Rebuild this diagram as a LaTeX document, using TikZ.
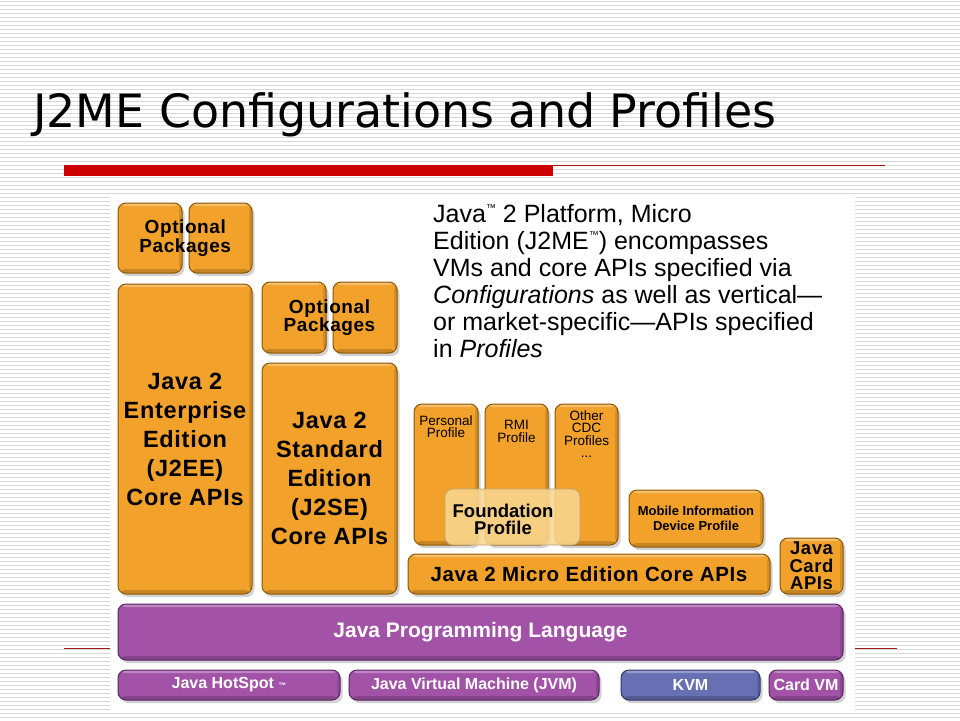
\documentclass[tikz,border=0pt]{standalone}
\usepackage{fontspec}
\setmainfont{Liberation Sans}
\newfontfamily\titlefont{DejaVu Sans}
\newfontfamily\boxfont[LetterSpace=3]{Liberation Sans}
\usetikzlibrary{shadows,calc}
\definecolor{jorange}{HTML}{F2A22A}
\definecolor{jrim}{HTML}{8A5806}
\definecolor{jpurple}{HTML}{A253A8}
\definecolor{jprim}{HTML}{5A2262}
\definecolor{jblue}{HTML}{6670B2}
\definecolor{jbrim}{HTML}{30356A}
\definecolor{jfound}{HTML}{F8D690}
\definecolor{jred}{HTML}{CC0000}
\definecolor{jdark}{HTML}{A01818}
\definecolor{jstripe}{HTML}{D8D8D8}
\newcommand{\tmark}{\raisebox{11pt}{\fontsize{10}{10}\selectfont ™}}
\tikzset{
  stripe/.style={draw=jstripe, line width=1pt},
  wh/.style 2 args={minimum width=#1pt, minimum height=#2pt},
  bevel/.style={path picture={
    \fill[white, opacity=0.3] (path picture bounding box.north west) rectangle ($(path picture bounding box.north east)+(0,-3pt)$);
    \fill[black, opacity=0.18] (path picture bounding box.south west) rectangle ($(path picture bounding box.south east)+(0,4pt)$);
    \fill[black, opacity=0.12] (path picture bounding box.north east) rectangle ($(path picture bounding box.south east)+(-3pt,0)$);}},
  block/.style={rectangle, rounded corners=8pt, draw=jrim, line width=1pt,
    fill=jorange, inner sep=0pt, align=center, bevel,
    general shadow={fill=black!35, opacity=0.5, shadow xshift=2.5pt, shadow yshift=-3pt}},
  vmblock/.style={block, fill=jpurple, draw=jprim, text=white},
  kvmblock/.style={block, fill=jblue, draw=jbrim, text=white},
  foundblock/.style={rectangle, rounded corners=8pt, draw=jrim!55, line width=0.8pt,
    fill=jfound, fill opacity=0.88, text opacity=1, inner sep=0pt, align=center},
  txt/.style={inner sep=0pt, align=center},
  bigtxt/.style={font=\boxfont\bfseries\fontsize{23.5}{29}\selectfont},
  opttxt/.style={txt, font=\boxfont\bfseries\fontsize{19}{16}\selectfont},
  smalltxt/.style={txt, font=\fontsize{13.5}{12.4}\selectfont},
  vmtxt/.style={font=\bfseries\fontsize{16}{16}\selectfont},
}
\begin{document}
\begin{tikzpicture}[x=1pt, y=-1pt]
  \useasboundingbox (0,0) rectangle (960,720);
  % striped slide background
  \fill[white] (0,0) rectangle (960,720);
  \foreach \y in {1,5,...,717}
    \draw[stripe] (0,\y) -- (960,\y);
  % title and red rules
  \node[anchor=base west, inner sep=0pt, font=\titlefont\fontsize{45.9}{50}\selectfont] (title) at (33,127) {J2ME Configurations and Profiles};
  \fill[jred] (64,165) rectangle (553,176);
  \draw[jdark, line width=1pt] (553,165.5) -- (885,165.5);
  \draw[jdark, line width=1pt] (64,648) -- (897,648);
  % white panel
  \fill[white] (110,197) rectangle (855,713);
  % J2EE column
  \node[block, wh={64}{70}] (optA) at (150,238) {};
  \node[block, wh={63}{70}] (optB) at (220.5,238) {};
  \node[opttxt] (optAB) at ($(optA)!0.5!(optB)$) {Optional\\Packages};
  \node[block, bigtxt, wh={134}{310}] (j2ee) at (185,439) {Java 2\\Enterprise\\Edition\\(J2EE)\\Core APIs};
  % J2SE column
  \node[block, wh={64}{71}] (optC) at (294,317.5) {};
  \node[block, wh={64}{71}] (optD) at (365,317.5) {};
  \node[opttxt] (optCD) at ($(optC)!0.5!(optD)$) {Optional\\Packages};
  \node[block, bigtxt, wh={135}{231}] (j2se) at (329.5,478.5) {Java 2\\Standard\\Edition\\(J2SE)\\Core APIs};
  % J2ME profiles
  \node[block, wh={64}{141}] (pers) at (446,474.5) {};
  \node[block, wh={63}{141}] (rmi) at (516.5,474.5) {};
  \node[block, wh={63}{141}] (other) at (586.5,474.5) {};
  \node[smalltxt, anchor=north] (perst) at ($(pers.north)+(0,12)$) {Personal\\Profile};
  \node[smalltxt, anchor=north] (rmit) at ($(rmi.north)+(0,17)$) {RMI\\Profile};
  \node[smalltxt, anchor=north] (othert) at ($(other.north)+(0,7)$) {Other\\CDC\\Profiles\\...};
  \node[foundblock, wh={135}{56}] (found) at (512.5,517) {};
  \node[txt, font=\bfseries\fontsize{18.5}{17}\selectfont] (foundt) at (503,519) {Foundation\\Profile};
  \node[block, wh={134}{57}, font=\bfseries\fontsize{13}{15.5}\selectfont] (midp) at (696,518.5) {Mobile Information\\Device Profile};
  \node[block, wh={362}{40}, font=\boxfont\bfseries\fontsize{20.5}{20}\selectfont] (j2me) at (589,574) {Java 2 Micro Edition Core APIs};
  \node[block, wh={63}{56}, font=\boxfont\bfseries\fontsize{18.5}{17.5}\selectfont] (card) at (811.5,566) {Java\\Card\\APIs};
  % language and virtual machines
  \node[vmblock, wh={725}{56}, font=\bfseries\fontsize{21}{21}\selectfont] (jpl) at (480.5,632) {Java Programming Language};
  \node[vmblock, vmtxt, wh={222}{30}] (hot) at (229,685) {Java HotSpot {\fontsize{8}{8}\selectfont ™}};
  \node[vmblock, vmtxt, wh={250}{30}] (jvm) at (474,685) {Java Virtual Machine (JVM)};
  \node[kvmblock, vmtxt, wh={139}{30}] (kvm) at (690.5,685) {KVM};
  \node[vmblock, vmtxt, wh={74}{30}] (cvm) at (806,685) {Card VM};
  % description
  \node[anchor=base west, inner sep=0pt, align=left, font=\fontsize{25}{27}\selectfont] (desc) at (433,357)
    {Java\tmark{} 2 Platform, Micro\\
     Edition (J2ME\tmark) encompasses\\
     VMs and core APIs specified via\\
     \textit{Configurations} as well as vertical---\\
     or market-specific---APIs specified\\
     in \textit{Profiles}};
\end{tikzpicture}
\end{document}
